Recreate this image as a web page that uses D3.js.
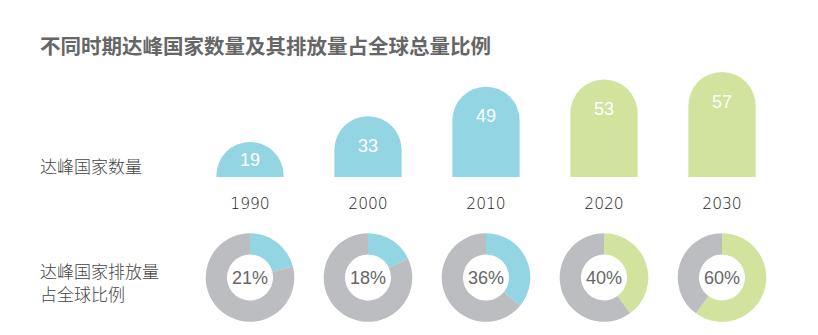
<!DOCTYPE html>
<html><head><meta charset="utf-8">
<script src="https://cdn.jsdelivr.net/npm/d3@7"></script>
<style>body{margin:0;background:#fff;}svg{display:block;}</style>
</head><body>
<svg id="chart" width="818" height="335"></svg>
<script>
const years = ["1990","2000","2010","2020","2030"];
const peakCounts = [19, 33, 49, 53, 57];
const emissionShares = [21, 18, 36, 40, 60];
const seriesGroup = ["past","past","past","future","future"];
const title = "不同时期达峰国家数量及其排放量占全球总量比例";
const rowLabel1 = ["达峰国家数量"];
const rowLabel2 = ["达峰国家排放量","占全球比例"];

const colors = {past:"#93d5e3", future:"#d1e39c", rest:"#bcbdc0"};
const svg = d3.select("#chart");
const font = "'Liberation Sans', Arial, 'Noto Sans CJK SC', sans-serif";
const cjk = "'Noto Sans CJK SC', sans-serif";

svg.append("text").attr("x",40).attr("y",54).text(title)
  .attr("font-family",cjk).attr("font-size",20.5).attr("font-weight","bold").attr("fill","#666");

const x = d3.scaleBand().domain(years).range([191,781]).paddingInner(0.43).paddingOuter(0.215);
const baseY = 177;
const y = d3.scaleLinear().domain([0,60]).range([baseY, baseY-110.5]);
const bw = x.bandwidth();
const r = bw/2;

function barPath(x0, top) {
  const p = d3.path();
  p.moveTo(x0, baseY);
  p.lineTo(x0, top + r);
  p.arc(x0 + r, top + r, r, Math.PI, 0);
  p.lineTo(x0 + bw, baseY);
  p.closePath();
  return p.toString();
}

const bars = svg.append("g");
years.forEach((yr,i)=>{
  const x0 = x(yr), top = y(peakCounts[i]);
  bars.append("path").attr("d", barPath(x0, top)).attr("fill", colors[seriesGroup[i]]);
  const ly = Math.min(top + 29, baseY - 17);
  bars.append("text").attr("x", x0 + r).attr("y", ly).attr("dy","0.36em")
    .attr("text-anchor","middle").attr("font-family",font).attr("font-size",18)
    .attr("fill","#fff").text(peakCounts[i]);
  bars.append("text").attr("x", x0 + r).attr("y", 203).attr("dy","0.36em")
    .attr("text-anchor","middle").attr("font-family","'DejaVu Sans', sans-serif")
    .attr("font-size",15.5).attr("font-weight","200").attr("fill","#1a1a1a").text(yr);
});

const pie = d3.pie().sort(null).value(d=>d.v);
const arc = d3.arc().innerRadius(23).outerRadius(44.3);
const cy = 277.5;
years.forEach((yr,i)=>{
  const g = svg.append("g").attr("transform",`translate(${x(yr)+r},${cy})`);
  const data = [{v:emissionShares[i], c:colors[seriesGroup[i]]},{v:100-emissionShares[i], c:colors.rest}];
  g.selectAll("path").data(pie(data)).join("path").attr("d",arc).attr("fill",d=>d.data.c);
  g.append("text").attr("text-anchor","middle").attr("dy","0.36em")
    .attr("font-family",font).attr("font-size",18).attr("fill","#666").text(emissionShares[i]+"%");
});

svg.append("text").attr("x",40).attr("y",167).attr("dy","0.36em").text(rowLabel1[0])
  .attr("font-family",cjk).attr("font-size",17).attr("font-weight","300").attr("fill","#444");
rowLabel2.forEach((t,k)=>{
  svg.append("text").attr("x",40).attr("y",272+k*23).attr("dy","0.36em").text(t)
    .attr("font-family",cjk).attr("font-size",17).attr("font-weight","300").attr("fill","#444");
});
</script>
</body></html>
